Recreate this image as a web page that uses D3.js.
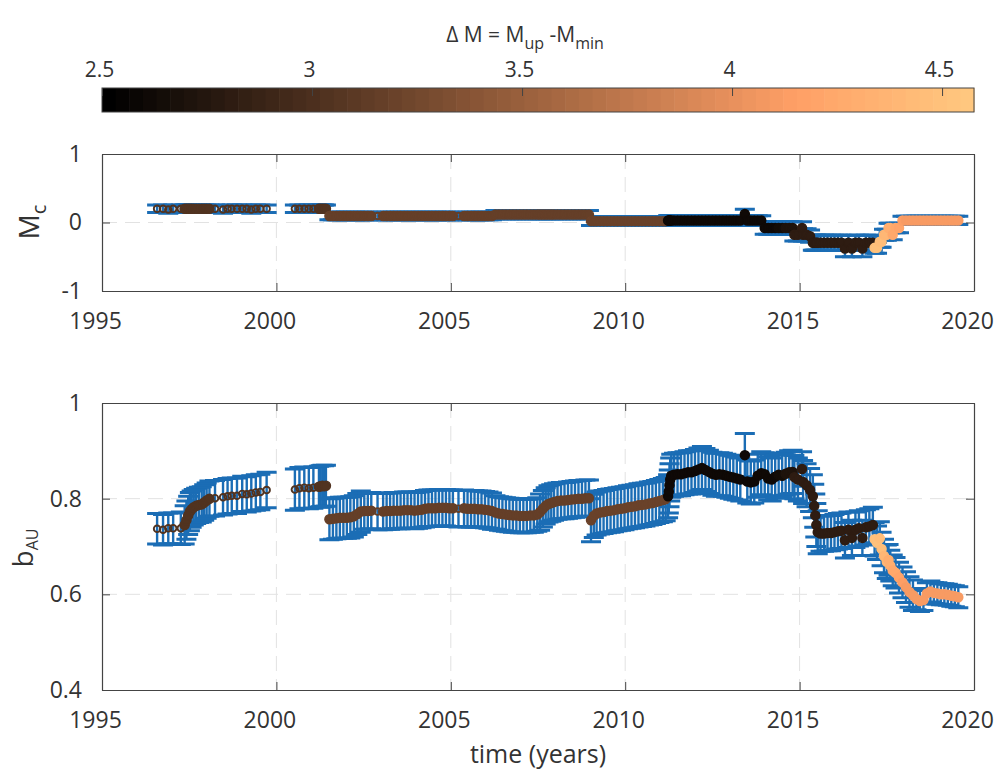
<!DOCTYPE html>
<html>
<head>
<meta charset="utf-8">
<script src="https://cdn.jsdelivr.net/npm/d3@7/dist/d3.min.js"></script>
<style>
body { margin: 0; background: #fff; }
svg text { font-family: "Open Sans", sans-serif; fill: #333; }
</style>
</head>
<body>
<div id="chart"></div>
<script>
var width = 994;
var height = 771;

// decimal years of each estimate
var years = [
  1996.58,1996.75,1996.90,1997.04,1997.26,
  1997.37,1997.42,1997.47,1997.52,1997.57,1997.63,1997.70,1997.78,1997.86,1997.93,
  1998.00,1998.08,
  1998.24,1998.47,1998.60,1998.72,1998.87,1999.02,1999.15,1999.28,1999.41,1999.54,
  1999.72,
  2000.53,2000.66,2000.80,2000.93,2001.06,2001.22,2001.27,2001.32,2001.37,2001.42,
  2001.52,2001.62,2001.72,2001.82,2001.92,2002.02,2002.12,2002.22,2002.32,2002.42,
  2002.52,2002.62,2002.72,2002.90,2003.06,2003.16,2003.26,2003.36,2003.46,2003.56,
  2003.66,2003.76,2003.86,2003.96,2004.06,2004.16,2004.26,2004.36,2004.46,2004.56,
  2004.66,2004.76,2004.86,2004.96,2005.06,2005.22,2005.38,2005.48,2005.58,2005.68,
  2005.78,2005.88,2005.98,2006.08,2006.18,2006.28,2006.38,2006.48,2006.58,2006.68,
  2006.78,2006.88,2006.98,2007.08,2007.18,2007.28,2007.38,2007.48,2007.56,2007.64,
  2007.72,2007.80,2007.88,2007.96,2008.06,2008.16,2008.26,2008.36,2008.46,2008.56,
  2008.66,2008.76,2008.86,2008.96,
  2009.02,2009.10,2009.18,2009.28,2009.38,2009.48,2009.58,2009.68,2009.78,2009.88,
  2009.98,2010.08,2010.18,2010.28,2010.38,2010.48,2010.58,2010.68,2010.78,2010.88,
  2010.98,2011.08,2011.16,
  2011.23,2011.25,2011.27,2011.29,2011.32,2011.40,2011.50,2011.60,2011.70,2011.80,
  2011.90,2012.00,2012.10,2012.20,2012.30,2012.40,2012.50,2012.60,2012.70,2012.80,
  2012.90,2013.00,2013.10,2013.20,2013.30,2013.43,2013.50,2013.60,2013.70,2013.80,
  2013.90,2014.00,2014.10,2014.20,2014.30,2014.40,2014.50,2014.60,2014.70,2014.80,
  2014.85,2014.95,2015.07,2015.10,2015.20,2015.30,2015.38,2015.42,2015.45,2015.48,
  2015.52,2015.60,2015.70,2015.80,2015.90,2016.00,2016.10,2016.20,2016.30,2016.40,
  2016.50,2016.60,2016.70,2016.80,2016.90,2017.00,2017.10,
  2017.15,2017.22,2017.30,2017.35,2017.42,2017.50,
  2017.55,2017.60,2017.67,2017.75,2017.85,2017.95,2018.05,2018.15,2018.25,2018.35,
  2018.45,2018.55,2018.65,2018.75,2018.85,2018.95,2019.05,2019.15,2019.25,2019.35,
  2019.45,2019.55
];

// b-value (AU)
var bAU = [
  .737,.735,.738,.738,.738,
  .745,.755,.765,.773,.778,.782,.785,.787,.788,.792,
  .796,.800,
  .801,.803,.805,.806,.806,.810,.809,.811,.813,.814,
  .818,
  .819,.822,.823,.822,.823,.825,.826,.827,.826,.827,
  .757,.758,.759,.760,.760,.760,.761,.763,.768,.773,
  .774,.774,.775,.773,.773,.774,.774,.775,.775,.775,
  .776,.776,.776,.775,.776,.777,.779,.780,.780,.780,
  .781,.781,.781,.780,.780,.779,.780,.779,.779,.779,
  .778,.778,.777,.776,.774,.771,.769,.768,.767,.766,
  .765,.765,.764,.764,.764,.765,.765,.767,.772,.779,
  .785,.789,.791,.793,.795,.796,.796,.797,.798,.799,
  .800,.800,.801,.801,
  .755,.764,.769,.771,.772,.774,.775,.776,.778,.779,
  .780,.782,.783,.784,.786,.787,.788,.790,.791,.793,
  .795,.797,.799,
  .805,.815,.828,.840,.848,.850,.851,.851,.853,.855,
  .855,.858,.861,.864,.860,.856,.852,.850,.851,.850,
  .848,.846,.844,.842,.840,.891,.836,.834,.836,.848,
  .853,.851,.842,.840,.846,.850,.848,.852,.855,.856,
  .845,.840,.862,.835,.828,.818,.805,.785,.765,.745,
  .730,.727,.727,.728,.728,.730,.732,.733,.713,.735,
  .718,.735,.738,.718,.740,.742,.745,
  .715,.708,.717,.695,.680,.668,
  .672,.660,.650,.645,.635,.625,.615,.605,.598,.590,
  .586,.588,.602,.606,.603,.602,.600,.600,.599,.597,
  .596,.594
];

var bErr = [
  .032,.032,.032,.032,.034,
  .040,.040,.040,.040,.038,.037,.037,.037,.037,.037,
  .037,.037,
  .037,.037,.037,.037,.037,.037,.037,.037,.037,.037,
  .037,
  .043,.043,.043,.043,.043,.043,.043,.043,.043,.043,
  .043,.043,.043,.043,.043,.043,.043,.043,.043,.043,
  .038,.038,.038,.038,.038,.038,.038,.038,.038,.038,
  .038,.038,.038,.038,.038,.038,.038,.038,.038,.038,
  .038,.038,.038,.038,.038,.038,.038,.038,.038,.038,
  .038,.038,.038,.038,.038,.035,.035,.035,.035,.035,
  .035,.035,.035,.035,.035,.035,.035,.035,.038,.038,
  .038,.038,.038,.038,.038,.038,.038,.038,.038,.038,
  .038,.038,.038,.038,
  .045,.045,.045,.045,.045,.045,.045,.045,.045,.045,
  .045,.045,.045,.045,.045,.045,.045,.045,.045,.045,
  .045,.045,.045,
  .045,.045,.045,.045,.045,.045,.045,.045,.045,.045,
  .045,.045,.045,.045,.045,.045,.045,.045,.045,.045,
  .045,.045,.045,.045,.045,.045,.045,.045,.045,.045,
  .045,.045,.045,.045,.045,.045,.045,.045,.045,.045,
  .045,.045,.036,.045,.045,.045,.045,.045,.045,.045,
  .045,.037,.037,.037,.037,.037,.037,.037,.037,.037,
  .037,.037,.037,.037,.037,.037,.037,
  .035,.035,.035,.035,.035,.035,
  .032,.032,.032,.032,.032,.032,.032,.032,.032,.022,
  .022,.022,.022,.022,.022,.022,.022,.022,.022,.022,
  .022,.022
];

// completeness magnitude Mc
var mc = [
  .20,.20,.19,.20,.20,
  .20,.20,.20,.20,.20,.20,.20,.20,.20,.20,
  .20,.20,
  .20,.19,.20,.20,.20,.20,.20,.19,.20,.20,
  .20,
  .20,.20,.20,.20,.20,.20,.20,.20,.20,.20,
  .095,.095,.095,.095,.095,.095,.095,.095,.095,.095,
  .095,.095,.095,.095,.095,.095,.095,.095,.095,.095,
  .095,.095,.095,.095,.095,.095,.095,.095,.095,.095,
  .095,.095,.095,.095,.095,.095,.095,.095,.095,.095,
  .095,.095,.095,.095,.095,.115,.115,.115,.115,.115,
  .115,.115,.115,.115,.115,.115,.115,.115,.115,.115,
  .115,.115,.115,.115,.115,.115,.115,.115,.115,.115,
  .115,.115,.115,.115,
  .02,.02,.02,.02,.02,.02,.02,.02,.02,.02,
  .02,.02,.02,.02,.02,.02,.02,.02,.02,.02,
  .02,.02,.02,
  .03,.03,.03,.03,.03,.03,.03,.03,.03,.03,
  .03,.03,.03,.03,.03,.03,.03,.03,.03,.03,
  .03,.03,.03,.03,.03,.124,.03,.03,.03,.03,
  .03,-.08,-.08,-.08,-.08,-.08,-.08,-.08,-.08,-.08,
  -.18,-.18,-.08,-.18,-.18,-.20,-.295,-.295,-.295,-.295,
  -.295,-.295,-.295,-.295,-.295,-.295,-.295,-.295,-.38,-.295,
  -.38,-.295,-.295,-.38,-.295,-.295,-.295,
  -.37,-.37,-.28,-.28,-.18,-.18,
  -.08,-.08,-.18,-.08,-.08,.03,.03,.03,.03,.03,
  .03,.03,.03,.03,.03,.03,.03,.03,.03,.03,
  .03,.03
];

var mcErr = [
  .055,.055,.055,.055,.055,
  .055,.055,.055,.055,.055,.055,.055,.055,.055,.055,
  .055,.055,
  .055,.055,.055,.055,.055,.055,.055,.055,.055,.055,
  .055,
  .055,.055,.055,.055,.055,.055,.055,.055,.055,.055,
  .055,.055,.055,.055,.055,.055,.055,.055,.055,.055,
  .055,.055,.055,.055,.055,.055,.055,.055,.055,.055,
  .055,.055,.055,.055,.055,.055,.055,.055,.055,.055,
  .055,.055,.055,.055,.055,.055,.055,.055,.055,.055,
  .055,.055,.055,.055,.055,.06,.06,.06,.06,.06,
  .06,.06,.06,.06,.06,.06,.06,.06,.06,.06,
  .06,.06,.06,.06,.06,.06,.06,.06,.06,.06,
  .06,.06,.06,.06,
  .065,.065,.065,.065,.065,.065,.065,.065,.065,.065,
  .065,.065,.065,.065,.065,.065,.065,.065,.065,.065,
  .065,.065,.065,
  .07,.07,.07,.07,.07,.07,.07,.07,.07,.07,
  .07,.07,.07,.07,.07,.07,.07,.07,.07,.07,
  .07,.07,.07,.07,.07,.07,.07,.07,.07,.07,
  .07,.09,.09,.09,.09,.09,.09,.09,.09,.09,
  .09,.09,.09,.09,.09,.09,.11,.11,.11,.11,
  .11,.11,.11,.11,.11,.11,.11,.11,.12,.11,
  .12,.11,.11,.12,.11,.11,.11,
  .08,.08,.08,.08,.08,.08,
  .07,.07,.07,.07,.07,.06,.06,.06,.06,.06,
  .06,.06,.06,.06,.06,.06,.06,.06,.06,.06,
  .06,.06
];

// Delta M = M_up - M_min (marker colour)
var deltaM = [
  3.05,3.05,3.05,3.05,3.05,
  3.05,3.05,3.05,3.05,3.05,3.05,3.05,3.05,3.05,3.05,
  3.05,3.05,
  3.05,3.05,3.05,3.05,3.05,3.05,3.05,3.05,3.05,3.05,
  3.05,
  3.05,3.05,3.05,3.05,3.05,3.05,3.05,3.05,3.05,3.05,
  3.15,3.15,3.15,3.15,3.15,3.15,3.15,3.15,3.15,3.15,
  3.15,3.15,3.15,3.15,3.15,3.15,3.15,3.15,3.15,3.15,
  3.15,3.15,3.15,3.15,3.15,3.15,3.15,3.15,3.15,3.15,
  3.15,3.15,3.15,3.15,3.15,3.15,3.15,3.15,3.15,3.15,
  3.15,3.15,3.15,3.15,3.15,3.15,3.15,3.15,3.15,3.15,
  3.15,3.15,3.15,3.15,3.15,3.15,3.15,3.15,3.15,3.15,
  3.15,3.15,3.15,3.15,3.15,3.15,3.15,3.15,3.15,3.15,
  3.15,3.15,3.15,3.15,
  3.2,3.2,3.2,3.2,3.2,3.2,3.2,3.2,3.2,3.2,
  3.2,3.2,3.2,3.2,3.2,3.2,3.2,3.2,3.2,3.2,
  3.2,3.2,3.2,
  2.6,2.6,2.6,2.6,2.6,2.6,2.6,2.6,2.6,2.6,
  2.6,2.6,2.6,2.6,2.6,2.6,2.6,2.6,2.6,2.6,
  2.6,2.6,2.6,2.6,2.6,2.6,2.6,2.6,2.6,2.6,
  2.6,2.6,2.6,2.6,2.6,2.65,2.65,2.7,2.7,2.7,
  2.8,2.8,2.8,2.8,2.8,2.8,2.8,2.8,2.8,2.8,
  2.8,2.8,2.8,2.8,2.8,2.8,2.8,2.8,2.8,2.8,
  2.8,2.8,2.8,2.8,2.8,2.8,2.8,
  4.5,4.5,4.45,4.45,4.4,4.4,
  4.3,4.3,4.25,4.25,4.2,4.15,4.12,4.1,4.1,4.1,
  4.1,4.1,4.1,4.1,4.1,4.1,4.1,4.1,4.1,4.1,
  4.1,4.1
];

var xTicks = [1995, 2000, 2005, 2010, 2015, 2020];
var mcTicks = [-1, 0, 1];
var mcTickLabels = ["-1", "0", "1"];
var bTicks = [0.4, 0.6, 0.8, 1];
var bTickLabels = ["0.4", "0.6", "0.8", "1"];
var cbTicks = [2.5, 3, 3.5, 4, 4.5];
var cbTickLabels = ["2.5", "3", "3.5", "4", "4.5"];
var cbDomain = [2.5, 4.576];

// a marker is drawn solid when it sits in a densely sampled stretch
var points = years.map(function(t, i){
    var gapPrev = i > 0 ? t - years[i-1] : 1;
    var gapNext = i < years.length - 1 ? years[i+1] - t : 1;
    return {t: t, b: bAU[i], be: bErr[i], mc: mc[i], me: mcErr[i], dm: deltaM[i],
            dense: Math.min(gapPrev, gapNext) < 0.105};
});

var axisColor = "#444";
var barBlue = "#1b6db5";
var capHalf = 10;

// matlab copper colormap, 64 levels
function copper(f){
    return d3.rgb(255*Math.min(1, 1.25*f), 255*0.7812*f, 255*0.4975*f).toString();
}
var nLevels = 64;
function colorOf(v){
    var f = (v - cbDomain[0])/(cbDomain[1] - cbDomain[0]);
    var k = Math.max(0, Math.min(nLevels - 1, Math.floor(f*nLevels)));
    return copper(k/(nLevels - 1));
}

var svg = d3.select("#chart")
            .append("svg")
            .attr("width", width)
            .attr("height", height);

var x = d3.scaleLinear().domain([1995, 2020]).range([102, 974]);
var yMc = d3.scaleLinear().domain([-1, 1]).range([291, 154]);
var yB = d3.scaleLinear().domain([0.4, 1]).range([690, 403]);

// ---- colorbar ----
var cb = d3.scaleLinear().domain(cbDomain).range([102, 974]);
var cbTop = 88, cbH = 24;
var levels = d3.range(nLevels);
var step = (cbDomain[1] - cbDomain[0])/nLevels;

svg.append("g").selectAll("rect")
    .data(levels)
    .enter()
    .append("rect")
    .attr("x", function(d){ return cb(cbDomain[0] + d*step); })
    .attr("y", cbTop)
    .attr("width", cb(cbDomain[0] + step) - cb(cbDomain[0]) + 0.6)
    .attr("height", cbH)
    .attr("fill", function(d){ return copper(d/(nLevels - 1)); });

svg.append("rect")
    .attr("x", 102).attr("y", cbTop)
    .attr("width", 872).attr("height", cbH)
    .attr("fill", "none")
    .attr("stroke", axisColor)
    .attr("stroke-width", 1);

var cbAxis = svg.append("g")
    .attr("transform", "translate(0," + cbTop + ")")
    .call(d3.axisTop(cb).tickValues(cbTicks)
        .tickFormat(function(d, i){ return cbTickLabels[i]; })
        .tickSize(-8).tickSizeOuter(0).tickPadding(11));
cbAxis.select(".domain").remove();
cbAxis.selectAll("line").attr("stroke", axisColor);
cbAxis.selectAll("text").style("font-size", "21px").attr("fill", "#333").attr("dx", -3);

var cbTitle = svg.append("text")
    .attr("x", 525).attr("y", 42)
    .attr("text-anchor", "middle")
    .style("font-size", "21px");
cbTitle.append("tspan").text("\u0394 M = M");
cbTitle.append("tspan").attr("dy", 7).style("font-size", "16px").text("up");
cbTitle.append("tspan").attr("dy", -7).text(" -M");
cbTitle.append("tspan").attr("dy", 7).style("font-size", "16px").text("min");

// ---- panels ----
function drawPanel(y, yTicks, yLabels, gridY, getV, getE){
    var top = y.range()[1], bottom = y.range()[0];
    var left = x.range()[0], right = x.range()[1];

    // dashed grid
    svg.append("g").selectAll("line")
        .data([2000, 2005, 2010, 2015])
        .enter().append("line")
        .attr("x1", x).attr("x2", x)
        .attr("y1", top).attr("y2", bottom)
        .attr("stroke", "#e2e2e2").attr("stroke-dasharray", "15,8");
    svg.append("g").selectAll("line")
        .data(gridY)
        .enter().append("line")
        .attr("x1", left).attr("x2", right)
        .attr("y1", y).attr("y2", y)
        .attr("stroke", "#e2e2e2").attr("stroke-dasharray", "15,8");

    // error bars: stems, then caps
    var bars = svg.append("g");
    bars.selectAll("line.stem")
        .data(points)
        .enter().append("line")
        .attr("class", "stem")
        .attr("x1", function(d){ return x(d.t); })
        .attr("x2", function(d){ return x(d.t); })
        .attr("y1", function(d){ return y(getV(d) - getE(d)); })
        .attr("y2", function(d){ return y(getV(d) + getE(d)); })
        .attr("stroke", barBlue)
        .attr("stroke-width", 2.4);
    bars.selectAll("path.cap")
        .data(points)
        .enter().append("path")
        .attr("class", "cap")
        .attr("d", function(d){
            var px = x(d.t), y1 = y(getV(d) - getE(d)), y2 = y(getV(d) + getE(d));
            return "M" + (px - capHalf) + "," + y1 + "H" + (px + capHalf) +
                   "M" + (px - capHalf) + "," + y2 + "H" + (px + capHalf);
        })
        .attr("fill", "none")
        .attr("stroke", barBlue)
        .attr("stroke-width", 3);

    // markers
    svg.append("g").selectAll("circle")
        .data(points)
        .enter().append("circle")
        .attr("cx", function(d){ return x(d.t); })
        .attr("cy", function(d){ return y(getV(d)); })
        .attr("r", function(d){ return d.dense ? 4.5 : 3.3; })
        .attr("fill", function(d){ return d.dense ? colorOf(d.dm) : "none"; })
        .attr("stroke", function(d){ return colorOf(d.dm); })
        .attr("stroke-width", function(d){ return d.dense ? 1.5 : 1.9; });

    // axes (box with inward ticks)
    var gB = svg.append("g").attr("transform", "translate(0," + bottom + ")")
        .call(d3.axisBottom(x).tickValues(xTicks).tickFormat(d3.format("d"))
            .tickSize(-8).tickSizeOuter(0).tickPadding(22));
    var gT = svg.append("g").attr("transform", "translate(0," + top + ")")
        .call(d3.axisTop(x).tickValues(xTicks).tickFormat("")
            .tickSize(-8).tickSizeOuter(0));
    var gL = svg.append("g").attr("transform", "translate(" + left + ",0)")
        .call(d3.axisLeft(y).tickValues(yTicks)
            .tickFormat(function(d, i){ return yLabels[i]; })
            .tickSize(-8).tickSizeOuter(0).tickPadding(20));
    var gR = svg.append("g").attr("transform", "translate(" + right + ",0)")
        .call(d3.axisRight(y).tickValues(yTicks).tickFormat("")
            .tickSize(-8).tickSizeOuter(0));
    [gB, gT, gL, gR].forEach(function(g){
        g.select(".domain").attr("stroke", axisColor).attr("stroke-width", 1.2);
        g.selectAll("line").attr("stroke", axisColor);
        g.selectAll("text").style("font-size", "23px").attr("fill", "#333");
    });
    gB.selectAll("text").attr("dx", -7);
}

drawPanel(yMc, mcTicks, mcTickLabels, [0],
    function(d){ return d.mc; }, function(d){ return d.me; });
drawPanel(yB, bTicks, bTickLabels, [0.6, 0.8],
    function(d){ return d.b; }, function(d){ return d.be; });

// axis titles
var mcLabel = svg.append("text")
    .attr("transform", "translate(39,222) rotate(-90)")
    .attr("text-anchor", "middle")
    .style("font-size", "28px");
mcLabel.append("tspan").text("M");
mcLabel.append("tspan").attr("dy", 7).style("font-size", "20px").text("c");

var bLabel = svg.append("text")
    .attr("transform", "translate(33,548) rotate(-90)")
    .attr("text-anchor", "middle")
    .style("font-size", "28px");
bLabel.append("tspan").text("b");
bLabel.append("tspan").attr("dy", 5).style("font-size", "16px").text("AU");

svg.append("text")
    .attr("x", 538).attr("y", 763)
    .attr("text-anchor", "middle")
    .style("font-size", "25px")
    .text("time (years)");
</script>
</body>
</html>
